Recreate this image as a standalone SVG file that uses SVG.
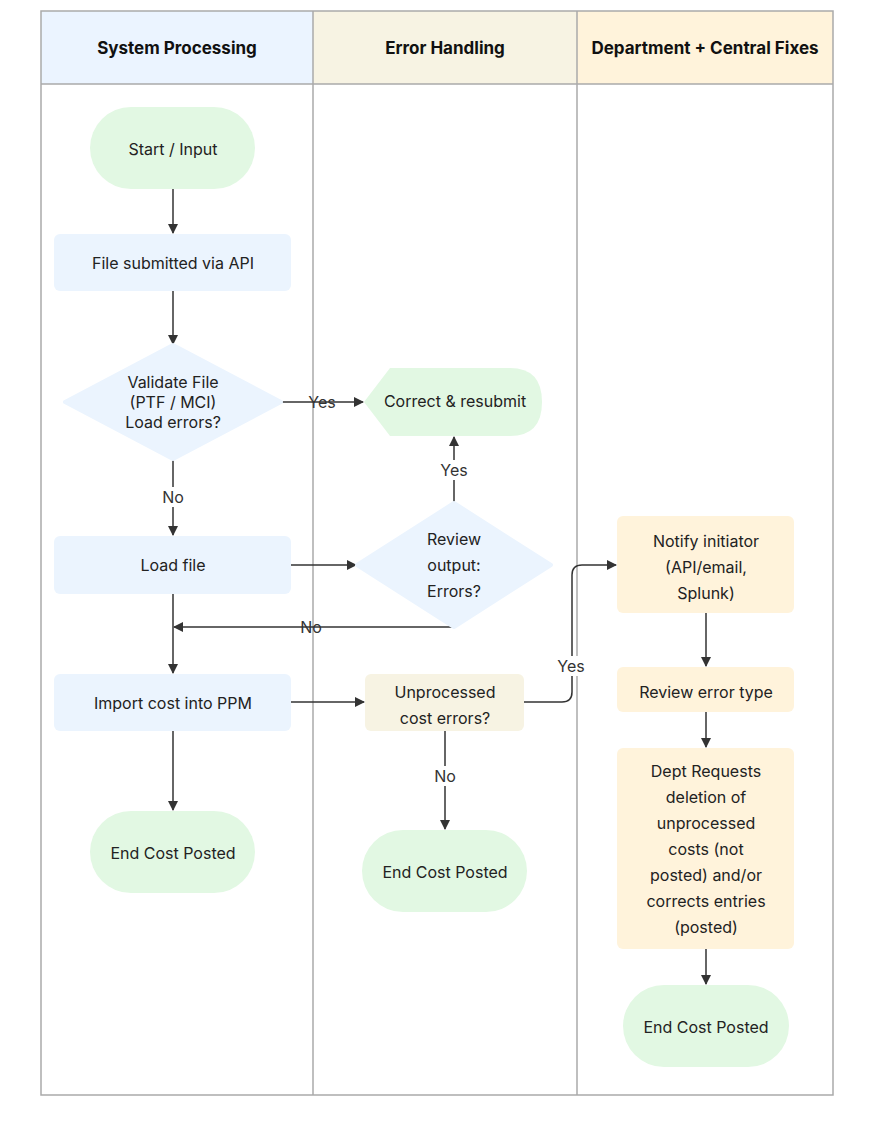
<svg xmlns="http://www.w3.org/2000/svg" width="874" height="1137" viewBox="0 0 874 1137">
<defs>
<marker id="ah" markerWidth="10" markerHeight="10" refX="9" refY="5" orient="auto" markerUnits="userSpaceOnUse"><path d="M0,0 L10,5 L0,10 z" fill="#333"/></marker>
<style>
text{font-family:Inter,"Liberation Sans",sans-serif;font-size:16px;fill:#222;text-anchor:middle;dominant-baseline:central}
.h{font-weight:bold;font-size:17px;fill:#111}
.lane{fill:none;stroke:#aaa;stroke-width:1.5}
.c{fill:none;stroke:#333;stroke-width:1.5;marker-end:url(#ah)}
.n{fill:none;stroke:#333;stroke-width:1.5}
.lbl{fill:#333}
.bl{fill:#EBF4FE}.gr{fill:#E2F8E3}.be{fill:#F7F3E3}.or{fill:#FFF3DB}
</style>
</defs>
<rect width="874" height="1137" fill="#fff"/>
<g id="lanes">
<rect x="41" y="11" width="272" height="73" fill="#EBF4FF"/>
<rect x="313" y="11" width="264" height="73" fill="#F7F3E3"/>
<rect x="577" y="11" width="256" height="73" fill="#FFF3DB"/>
<rect x="41" y="11" width="792" height="1084" class="lane"/>
<line x1="41" y1="84" x2="833" y2="84" class="lane"/>
<line x1="313" y1="11" x2="313" y2="1095" class="lane"/>
<line x1="577" y1="11" x2="577" y2="1095" class="lane"/>
<text x="177" y="48" class="h">System Processing</text>
<text x="445" y="48" class="h">Error Handling</text>
<text x="705" y="48" class="h">Department + Central Fixes</text>
</g>
<g id="connectors">
<line x1="173" y1="189" x2="173" y2="233" class="c"/>
<line x1="173" y1="291" x2="173" y2="344" class="c"/>
<line x1="281" y1="402" x2="363" y2="402" class="c"/>
<line x1="173" y1="459" x2="173" y2="535" class="c"/>
<line x1="291" y1="565" x2="356" y2="565" class="c"/>
<line x1="454" y1="503" x2="454" y2="437" class="c"/>
<line x1="456" y1="627" x2="174" y2="627" class="c"/>
<line x1="173" y1="594" x2="173" y2="673" class="c"/>
<line x1="291" y1="702" x2="364" y2="702" class="c"/>
<path d="M524,702 L562,702 Q572,702 572,692 L572,575 Q572,565 582,565 L616,565" class="c"/>
<line x1="445" y1="731" x2="445" y2="829" class="c"/>
<line x1="173" y1="731" x2="173" y2="810" class="c"/>
<line x1="706" y1="613" x2="706" y2="666" class="c"/>
<line x1="706" y1="712" x2="706" y2="747" class="c"/>
<line x1="706" y1="949" x2="706" y2="984" class="c"/>
<rect x="306" y="392" width="32" height="20" fill="#fff" opacity="0"/>
<text x="322" y="402" class="lbl">Yes</text>
<rect x="158" y="487" width="30" height="20" fill="#fff"/>
<text x="173" y="497" class="lbl">No</text>
<rect x="438" y="460" width="32" height="20" fill="#fff"/>
<text x="454" y="470" class="lbl">Yes</text>
<text x="311" y="627" class="lbl">No</text>
<rect x="555" y="656" width="34" height="20" fill="#fff"/>
<text x="571" y="666" class="lbl">Yes</text>
<rect x="430" y="766" width="30" height="20" fill="#fff"/>
<text x="445" y="776" class="lbl">No</text>
</g>
<g id="start"><rect x="90" y="107" width="165" height="82" rx="41" class="gr"/><text x="173" y="149">Start / Input</text></g>
<g id="submit"><rect x="54" y="234" width="237" height="57" rx="6" class="bl"/><text x="173" y="263">File submitted via API</text></g>
<g id="validate"><path d="M173,345 L281,402 L173,459 L65,402 z" class="bl" stroke="#EBF4FE" stroke-width="4" stroke-linejoin="round"/><text x="173" y="382">Validate File</text><text x="173" y="402">(PTF / MCI)</text><text x="173" y="422">Load errors?</text></g>
<g id="correct"><path d="M390,368 L510,368 Q542,368 542,402 Q542,436 510,436 L390,436 L364,402 z" class="gr"/><text x="455" y="401">Correct &amp; resubmit</text></g>
<g id="load"><rect x="54" y="536" width="237" height="58" rx="6" class="bl"/><text x="173" y="565">Load file</text></g>
<g id="review"><path d="M454,503 L551,565 L454,627 L357,565 z" class="bl" stroke="#EBF4FE" stroke-width="4" stroke-linejoin="round"/><text x="454" y="539">Review</text><text x="454" y="565">output:</text><text x="454" y="591">Errors?</text></g>
<g id="import"><rect x="54" y="674" width="237" height="57" rx="6" class="bl"/><text x="173" y="703">Import cost into PPM</text></g>
<g id="unprocessed"><rect x="365" y="674" width="159" height="57" rx="6" class="be"/><text x="445" y="692">Unprocessed</text><text x="445" y="718">cost errors?</text></g>
<g id="end1"><rect x="90" y="811" width="165" height="82" rx="41" class="gr"/><text x="173" y="853">End Cost Posted</text></g>
<g id="end2"><rect x="362" y="830" width="165" height="82" rx="41" class="gr"/><text x="445" y="872">End Cost Posted</text></g>
<g id="notify"><rect x="617" y="516" width="177" height="97" rx="6" class="or"/><text x="706" y="541">Notify initiator</text><text x="706" y="567">(API/email,</text><text x="706" y="593">Splunk)</text></g>
<g id="reviewtype"><rect x="617" y="667" width="177" height="45" rx="6" class="or"/><text x="706" y="692">Review error type</text></g>
<g id="dept"><rect x="617" y="748" width="177" height="201" rx="6" class="or"/>
<text x="706" y="771">Dept Requests</text><text x="706" y="797">deletion of</text><text x="706" y="823">unprocessed</text><text x="706" y="849">costs (not</text><text x="706" y="875">posted) and/or</text><text x="706" y="901">corrects entries</text><text x="706" y="927">(posted)</text></g>
<g id="end3"><rect x="623" y="985" width="166" height="82" rx="41" class="gr"/><text x="706" y="1027">End Cost Posted</text></g>
</svg>
